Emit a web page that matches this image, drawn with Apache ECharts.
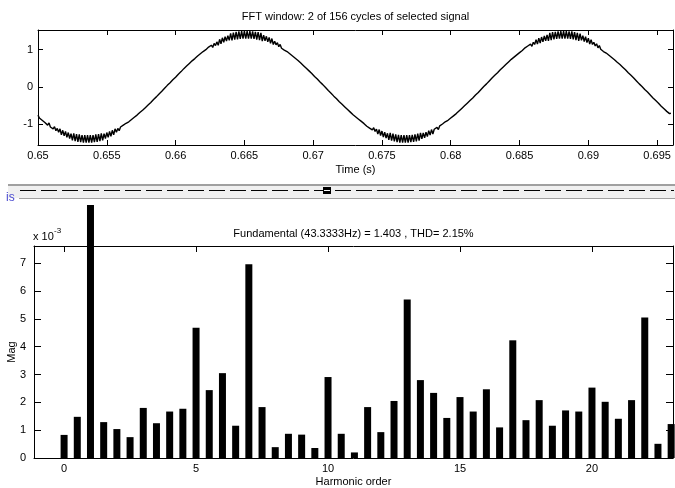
<!DOCTYPE html>
<html><head><meta charset="utf-8">
<script src="https://cdn.jsdelivr.net/npm/echarts@6/dist/echarts.min.js"></script>
<style>html,body{margin:0;padding:0;background:#fff}#c{width:675px;height:488px}</style>
</head><body><div id="c"></div>
<script>
// ---- top panel: selected signal, 2 cycles, one sample every signalStep seconds from signalStart ----
const signalStart = 0.65;
const signalStep = 0.0001;
const signalValues = [
 -0.76,-0.84,-0.82,-0.90,-0.88,-0.96,-0.94,-1.03,-0.97,-1.08,
 -1.03,-1.13,-1.07,-1.18,-1.12,-1.22,-1.13,-1.29,-1.17,-1.32,
 -1.20,-1.36,-1.23,-1.39,-1.26,-1.44,-1.25,-1.46,-1.27,-1.48,
 -1.28,-1.49,-1.30,-1.50,-1.30,-1.50,-1.30,-1.50,-1.30,-1.50,
 -1.30,-1.49,-1.28,-1.48,-1.27,-1.46,-1.25,-1.44,-1.26,-1.39,
 -1.23,-1.36,-1.20,-1.33,-1.17,-1.29,-1.13,-1.22,-1.12,-1.18,
 -1.08,-1.13,-1.03,-1.08,-0.98,-1.03,-0.94,-0.96,-0.88,-0.90,
 -0.82,-0.84,-0.76,-0.78,-0.69,-0.71,-0.63,-0.64,-0.56,-0.57,
 -0.49,-0.50,-0.42,-0.43,-0.34,-0.36,-0.27,-0.28,-0.19,-0.21,
 -0.12,-0.13,-0.04,-0.05,0.04,0.02,0.11,0.10,0.19,0.18,
 0.26,0.25,0.34,0.33,0.41,0.40,0.49,0.47,0.56,0.54,
 0.63,0.61,0.70,0.68,0.76,0.74,0.83,0.81,0.89,0.87,
 0.95,0.92,1.00,0.96,1.07,1.02,1.12,1.06,1.17,1.11,
 1.21,1.12,1.28,1.16,1.32,1.20,1.35,1.23,1.38,1.25,
 1.44,1.25,1.46,1.27,1.48,1.28,1.49,1.29,1.50,1.30,
 1.50,1.30,1.50,1.30,1.50,1.30,1.49,1.29,1.48,1.27,
 1.47,1.26,1.45,1.23,1.39,1.24,1.36,1.21,1.33,1.17,
 1.30,1.14,1.23,1.13,1.19,1.08,1.14,1.04,1.09,0.99,
 1.04,0.95,0.97,0.89,0.91,0.83,0.85,0.77,0.79,0.71,
 0.72,0.64,0.66,0.57,0.59,0.50,0.52,0.43,0.44,0.36,
 0.37,0.28,0.30,0.21,0.22,0.13,0.14,0.06,0.07,-0.02,
 -0.01,-0.10,-0.09,-0.17,-0.16,-0.25,-0.24,-0.32,-0.31,-0.40,
 -0.39,-0.47,-0.46,-0.54,-0.53,-0.61,-0.60,-0.68,-0.67,-0.75,
 -0.73,-0.81,-0.79,-0.87,-0.86,-0.93,-0.91,-0.99,-0.95,-1.06,
 -1.01,-1.11,-1.06,-1.16,-1.10,-1.20,-1.14,-1.27,-1.15,-1.31,
 -1.19,-1.35,-1.22,-1.38,-1.25,-1.43,-1.24,-1.45,-1.26,-1.47,
 -1.28,-1.49,-1.29,-1.50,-1.30,-1.50,-1.30,-1.50,-1.30,-1.50,
 -1.30,-1.49,-1.29,-1.48,-1.28,-1.47,-1.26,-1.45,-1.24,-1.40,
 -1.24,-1.37,-1.22,-1.34,-1.18,-1.30,-1.15,-1.27,-1.14,-1.19,
 -1.09,-1.15,-1.05,-1.10,-1.00,-1.05,-0.94,-0.98,-0.90,-0.92,
 -0.84,-0.86,-0.78,-0.80,-0.72,-0.74,-0.65,-0.67,-0.58,-0.60,
 -0.51,-0.53,-0.44,-0.46,-0.37,-0.38,-0.30,-0.31,-0.22,-0.23,
 -0.15,-0.16,-0.07,-0.08,0.01,-0.01,0.08,0.07,0.16,0.15,
 0.24,0.22,0.31,0.30,0.38,0.37,0.46,0.44,0.53,0.52,
 0.60,0.58,0.67,0.65,0.74,0.72,0.80,0.78,0.86,0.84,
 0.92,0.90,0.98,0.94,1.05,1.00,1.10,1.05,1.15,1.09,
 1.20,1.14,1.27,1.15,1.31,1.18,1.34,1.21,1.37,1.24,
 1.40,1.24,1.45,1.26,1.47,1.28,1.48,1.29,1.49,1.30,
 1.50,1.30,1.50,1.30,1.50,1.30,1.49,1.29,1.49,1.28,
 1.47,1.26,1.45,1.24,1.43,1.25,1.38,1.22,1.35,1.19,
 1.31,1.15,1.27,1.14,1.20,1.10,1.16,1.05,1.11,1.01,
 1.06,0.95,0.99,0.91,0.93,0.85,0.87,0.79,0.81,0.73,
 0.75,0.66,0.68,0.60,0.61,0.53,0.54,0.46,0.47,0.38,
 0.40,0.31,0.32,0.24,0.25,0.16,0.17,0.08,0.10,0.01,
 0.02,-0.07,-0.06,-0.14,-0.13,-0.22,-0.21,-0.30,-0.28,-0.37,
 -0.36,-0.44,-0.43,-0.52,-0.50,-0.59,-0.57,-0.66,-0.64,-0.72,
 -0.71
];
const timeTicks = [0.65,0.655,0.66,0.665,0.67,0.675,0.68,0.685,0.69,0.695];
const signalTicks = [-1,0,1];

// ---- bottom panel: harmonic spectrum (magnitudes in units of 10^-3) ----
const harmonicOrders = [0,0.5,1,1.5,2,2.5,3,3.5,4,4.5,5,5.5,6,6.5,7,7.5,8,8.5,9,9.5,10,10.5,11,11.5,
  12,12.5,13,13.5,14,14.5,15,15.5,16,16.5,17,17.5,18,18.5,19,19.5,20,20.5,21,21.5,22,22.5,23];
const harmonicMag = [0.83,1.48,1403,1.29,1.04,0.75,1.80,1.25,1.67,1.77,4.68,2.44,3.05,1.16,6.96,1.83,
  0.39,0.87,0.84,0.36,2.91,0.87,0.20,1.83,0.93,2.05,5.70,2.80,2.34,1.44,2.19,1.67,2.47,1.10,4.23,1.36,
  2.08,1.16,1.71,1.67,2.53,2.02,1.41,2.08,5.05,0.51,1.22];
const harmonicTicks = [0,5,10,15,20];
const magTicks = [0,1,2,3,4,5,6,7];

const FONT = "'Liberation Sans', Arial, Helvetica, sans-serif";
const BLACK = '#000';
const lineStyle = {color: BLACK, width: 1};
const txt = {color: BLACK, fontSize: 11, fontFamily: FONT};

// layout
const G0 = {left: 38, top: 30, width: 635, height: 115};
const G1 = {left: 34, top: 246, width: 639, height: 212};
const xMin1 = -1.14, xMax1 = 23.07, yMax1 = 7.62;
const barTop = 205, barXMax = 24;
const G2 = {left: 34, top: barTop, width: G1.width * (barXMax - xMin1) / (xMax1 - xMin1),
            height: G1.top + G1.height - barTop};
const yMax2 = yMax1 * G2.height / G1.height;

function axis(o) {
  return Object.assign({
    type: 'value',
    axisLine: {show: true, onZero: false, lineStyle},
    splitLine: {show: false},
    nameMoveOverlap: false,
    nameTextStyle: txt
  }, o);
}
function grid(g) {
  return Object.assign({containLabel: false, outerBoundsMode: 'none'}, g);
}

const chart = echarts.init(document.getElementById('c'), null, {renderer: 'canvas'});
chart.setOption({
  animation: false,
  backgroundColor: '#fff',
  grid: [grid(G0), grid(G1), grid(G2)],
  xAxis: [
    axis({gridIndex: 0, position: 'bottom', min: 0.65, max: 0.696154,
      axisTick: {inside: true, length: 5, customValues: timeTicks, lineStyle},
      axisLabel: Object.assign({customValues: timeTicks, margin: 5}, txt),
      name: 'Time (s)', nameLocation: 'middle', nameGap: 19}),
    axis({gridIndex: 0, position: 'top', min: 0.65, max: 0.696154,
      axisTick: {inside: true, length: 5, customValues: timeTicks, lineStyle},
      axisLabel: {show: false}}),
    axis({gridIndex: 1, position: 'bottom', min: xMin1, max: xMax1,
      axisTick: {inside: true, length: 6, customValues: harmonicTicks, lineStyle},
      axisLabel: Object.assign({customValues: harmonicTicks, margin: 5}, txt),
      name: 'Harmonic order', nameLocation: 'middle', nameGap: 18}),
    axis({gridIndex: 1, position: 'top', min: xMin1, max: xMax1,
      axisTick: {inside: true, length: 6, customValues: harmonicTicks, lineStyle},
      axisLabel: {show: false}}),
    {gridIndex: 2, type: 'value', min: xMin1, max: barXMax, show: false}
  ],
  yAxis: [
    axis({gridIndex: 0, position: 'left', min: -1.565, max: 1.53,
      axisTick: {inside: true, length: 5, customValues: signalTicks, lineStyle},
      axisLabel: Object.assign({customValues: signalTicks, margin: 5}, txt)}),
    axis({gridIndex: 0, position: 'right', min: -1.565, max: 1.53,
      axisTick: {inside: true, length: 5, customValues: signalTicks, lineStyle},
      axisLabel: {show: false}}),
    axis({gridIndex: 1, position: 'left', min: 0, max: yMax1,
      axisTick: {inside: true, length: 7, customValues: magTicks, lineStyle},
      axisLabel: Object.assign({customValues: magTicks, margin: 8}, txt),
      name: 'Mag', nameLocation: 'middle', nameRotate: 90, nameGap: 17}),
    axis({gridIndex: 1, position: 'right', min: 0, max: yMax1,
      axisTick: {inside: true, length: 7, customValues: magTicks, lineStyle},
      axisLabel: {show: false}}),
    {gridIndex: 2, type: 'value', min: 0, max: yMax2, show: false}
  ],
  series: [
    {type: 'line', xAxisIndex: 0, yAxisIndex: 0, showSymbol: false, symbol: 'none',
     lineStyle: {color: BLACK, width: 1.4}, silent: true,
     data: signalValues.map((v, i) => [signalStart + i * signalStep, v])},
    {type: 'bar', xAxisIndex: 4, yAxisIndex: 4, barWidth: 7, clip: true,
     itemStyle: {color: BLACK}, silent: true,
     data: harmonicOrders.map((o, i) => [o, harmonicMag[i]])}
  ],
  graphic: [
    {type: 'text', x: G0.left + G0.width / 2, y: 17, silent: true,
     style: {text: 'FFT window: 2 of 156 cycles of selected signal', fill: BLACK, font: '11px ' + FONT, textAlign: 'center', textVerticalAlign: 'middle'}},
    // separator panel
    {type: 'rect', shape: {x: 8, y: 186, width: 667, height: 12}, style: {fill: '#f0f0f0'}, silent: true},
    {type: 'rect', shape: {x: 8, y: 184, width: 667, height: 2}, style: {fill: '#a0a0a0'}, silent: true},
    {type: 'rect', shape: {x: 19, y: 198, width: 656, height: 1}, style: {fill: '#a0a0a0'}, silent: true},
    {type: 'line', shape: {x1: 20, y1: 190.5, x2: 674, y2: 190.5}, style: {stroke: BLACK, lineWidth: 1, lineDash: [16, 5]}, silent: true},
    {type: 'rect', shape: {x: 323, y: 187, width: 8, height: 7}, style: {fill: BLACK}, silent: true},
    {type: 'rect', shape: {x: 324, y: 190, width: 6, height: 1}, style: {fill: '#fff'}, silent: true},
    {type: 'text', x: 6, y: 198, silent: true,
     style: {text: 'is', fill: '#4a4ad0', font: '12px ' + FONT, textAlign: 'left', textVerticalAlign: 'middle'}},
    // bottom panel annotations
    {type: 'text', x: 33, y: 237, silent: true,
     style: {text: 'x 10', fill: BLACK, font: '11px ' + FONT, textAlign: 'left', textVerticalAlign: 'middle'}},
    {type: 'text', x: 54, y: 231, silent: true,
     style: {text: '-3', fill: BLACK, font: '8px ' + FONT, textAlign: 'left', textVerticalAlign: 'middle'}},
    {type: 'text', x: G1.left + G1.width / 2, y: 234, silent: true,
     style: {text: 'Fundamental (43.3333Hz) = 1.403 , THD= 2.15%', fill: BLACK, font: '11px ' + FONT, textAlign: 'center', textVerticalAlign: 'middle'}}
  ]
});
</script></body></html>
